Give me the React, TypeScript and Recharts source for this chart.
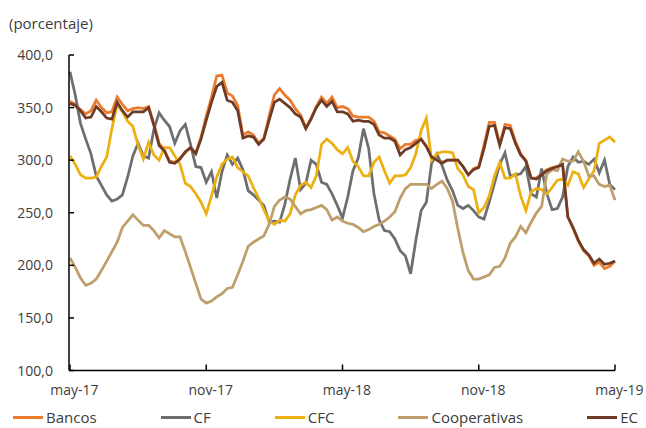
import React from 'react';
import { LineChart, Line, XAxis, YAxis } from 'recharts';

// weekly series, may-17 .. may-19 (105 weeks)
const bancos = [
  356, 353, 348, 344, 347, 357, 350, 345, 346, 360, 353, 347, 349, 350, 349, 351, 335, 316, 310, 299,
  298, 302, 307, 312, 307, 322, 342, 360, 380, 381, 364, 361, 352, 324, 327, 324, 316, 321, 342, 362,
  368, 362, 357, 349, 343, 331, 340, 351, 360, 354, 360, 350, 351, 349, 342, 341, 341, 341, 337, 327,
  326, 323, 320, 311, 315, 315, 319, 320, 313, 303, 301, 298, 300, 300, 300, 294, 286, 292, 294, 314,
  336, 336, 315, 334, 333, 318, 306, 300, 283, 283, 287, 291, 293, 294, 296, 246, 235, 223, 214, 209,
  200, 203, 197, 199, 204,
];
const cf = [
  384, 362, 335, 320, 306, 285, 276, 267, 261, 263, 267, 284, 304, 316, 304, 302, 329, 345, 338, 332,
  316, 328, 334, 315, 294, 293, 279, 289, 264, 289, 305, 296, 302, 291, 271, 267, 262, 257, 241, 242,
  241, 258, 282, 302, 272, 278, 300, 296, 279, 277, 268, 257, 245, 265, 290, 302, 330, 311, 268, 243,
  233, 232, 225, 214, 209, 192, 224, 252, 260, 297, 306, 295, 281, 271, 257, 254, 257, 252, 246, 244,
  260, 278, 296, 307, 285, 286, 287, 294, 268, 265, 292, 268, 253, 254, 265, 294, 303, 298, 299, 296,
  301, 288, 300, 277, 272,
];
const cfc = [
  304, 296, 286, 283, 283, 284, 294, 303, 330, 353, 346, 337, 332, 314, 301, 317, 305, 300, 312, 312,
  304, 296, 278, 275, 268, 260, 249, 266, 284, 296, 301, 303, 293, 289, 285, 274, 264, 253, 242, 239,
  243, 242, 249, 267, 276, 279, 274, 285, 315, 320, 316, 310, 306, 312, 299, 294, 285, 285, 298, 303,
  290, 278, 285, 285, 286, 293, 306, 328, 340, 300, 306, 308, 308, 307, 292, 286, 275, 272, 250, 255,
  266, 285, 298, 283, 283, 287, 266, 252, 270, 273, 272, 268, 274, 281, 282, 276, 289, 287, 274, 282,
  290, 316, 319, 322, 317,
];
const cooperativas = [
  207, 198, 188, 181, 183, 187, 195, 204, 213, 222, 236, 242, 248, 243, 238, 238, 233, 226, 233, 230,
  227, 227, 213, 198, 183, 168, 164, 166, 170, 173, 178, 179, 191, 204, 218, 222, 225, 228, 239, 256,
  262, 265, 263, 256, 249, 252, 253, 255, 257, 253, 243, 246, 242, 240, 239, 236, 232, 234, 237, 239,
  242, 246, 251, 264, 273, 277, 277, 277, 277, 273, 277, 280, 273, 261, 235, 212, 195, 187, 187, 189,
  191, 198, 199, 207, 221, 227, 237, 231, 241, 250, 256, 287, 291, 290, 301, 299, 299, 308, 299, 285,
  285, 277, 275, 276, 262,
];
const ec = [
  354, 352, 347, 340, 341, 351, 346, 340, 339, 355, 347, 341, 346, 346, 346, 350, 333, 314, 309, 298,
  297, 301, 308, 312, 306, 320, 338, 355, 370, 374, 357, 355, 347, 321, 323, 322, 315, 320, 338, 355,
  358, 354, 350, 344, 341, 330, 339, 350, 357, 351, 356, 346, 346, 344, 337, 338, 337, 337, 334, 324,
  321, 321, 318, 305, 310, 312, 316, 320, 313, 303, 300, 297, 300, 300, 300, 294, 286, 291, 293, 311,
  332, 333, 314, 331, 330, 316, 305, 299, 283, 282, 286, 290, 292, 294, 296, 246, 236, 224, 215, 210,
  202, 206, 201, 202, 204,
];

const monthTicks = [0, 26, 52, 78, 104];
const monthLabels = ['may-17', 'nov-17', 'may-18', 'nov-18', 'may-19'];
const yTicks = [100, 150, 200, 250, 300, 350, 400];

const series = [
  { key: 'bancos', name: 'Bancos', color: '#EC7B2C' },
  { key: 'cf', name: 'CF', color: '#6D6E70' },
  { key: 'cfc', name: 'CFC', color: '#EDB012' },
  { key: 'cooperativas', name: 'Cooperativas', color: '#BE9E6B' },
  { key: 'ec', name: 'EC', color: '#6E3B27' },
];

const data = bancos.map((v, i) => ({
  i,
  bancos: v,
  cf: cf[i],
  cfc: cfc[i],
  cooperativas: cooperativas[i],
  ec: ec[i],
}));

const FONT = '"Open Sans", sans-serif';
const TEXT = '#3d3d3d';

const YTick = (props: any) => {
  const { x, y, payload } = props;
  return (
    <g>
      <line x1={x + 16} x2={x + 21} y1={y} y2={y} stroke="#000" strokeWidth={1.5} />
      <text x={x} y={y} dy="0.36em" textAnchor="end" fill={TEXT} fontSize={14} fontFamily={FONT}>
        {payload.value.toFixed(1).replace('.', ',')}
      </text>
    </g>
  );
};

const XTick = (props: any) => {
  const { x, y, payload } = props;
  const idx = monthTicks.indexOf(payload.value);
  return (
    <g>
      <line x1={x} x2={x} y1={y - 15} y2={y - 21} stroke="#000" strokeWidth={1.5} />
      <text x={x + 4.5} y={y} dy="0.71em" textAnchor="middle" fill={TEXT} fontSize={14} fontFamily={FONT}>
        {monthLabels[idx]}
      </text>
    </g>
  );
};

export default function App() {
  return (
    <div style={{ position: 'absolute', left: 0, top: 0, width: 646, height: 428, background: '#fff', overflow: 'hidden' }}>
      <div style={{ position: 'absolute', left: 9, top: 13, fontFamily: FONT, fontSize: 15, color: TEXT }}>
        (porcentaje)
      </div>
      <LineChart width={646} height={428} data={data} margin={{ top: 55, right: 31, bottom: 0, left: 0 }}>
        <XAxis
          dataKey="i"
          type="number"
          domain={[0, 104]}
          ticks={monthTicks}
          padding={{ left: 1, right: 0 }}
          height={57.5}
          tickSize={0}
          tickMargin={15}
          tick={<XTick />}
          axisLine={{ stroke: '#000', strokeWidth: 1.5 }}
          tickLine={false}
        />
        <YAxis
          domain={[100, 400]}
          ticks={yTicks}
          width={69}
          tickSize={0}
          tickMargin={16}
          tick={<YTick />}
          axisLine={{ stroke: '#000', strokeWidth: 1.5 }}
          tickLine={false}
        />
        {series.map((s) => (
          <Line
            key={s.key}
            type="linear"
            dataKey={s.key}
            name={s.name}
            stroke={s.color}
            strokeWidth={2.75}
            dot={false}
            isAnimationActive={false}
          />
        ))}
      </LineChart>
      <div
        style={{
          position: 'absolute',
          left: 13,
          right: 8,
          top: 407,
          display: 'flex',
          justifyContent: 'space-between',
          fontFamily: FONT,
          fontSize: 15,
          lineHeight: '20px',
          color: TEXT,
          whiteSpace: 'nowrap',
        }}
      >
        {series.map((s) => (
          <div key={s.key} style={{ display: 'flex', alignItems: 'center' }}>
            <span style={{ display: 'inline-block', width: 30, height: 3, background: s.color, marginRight: 3 }} />
            <span>{s.name}</span>
          </div>
        ))}
      </div>
    </div>
  );
}
